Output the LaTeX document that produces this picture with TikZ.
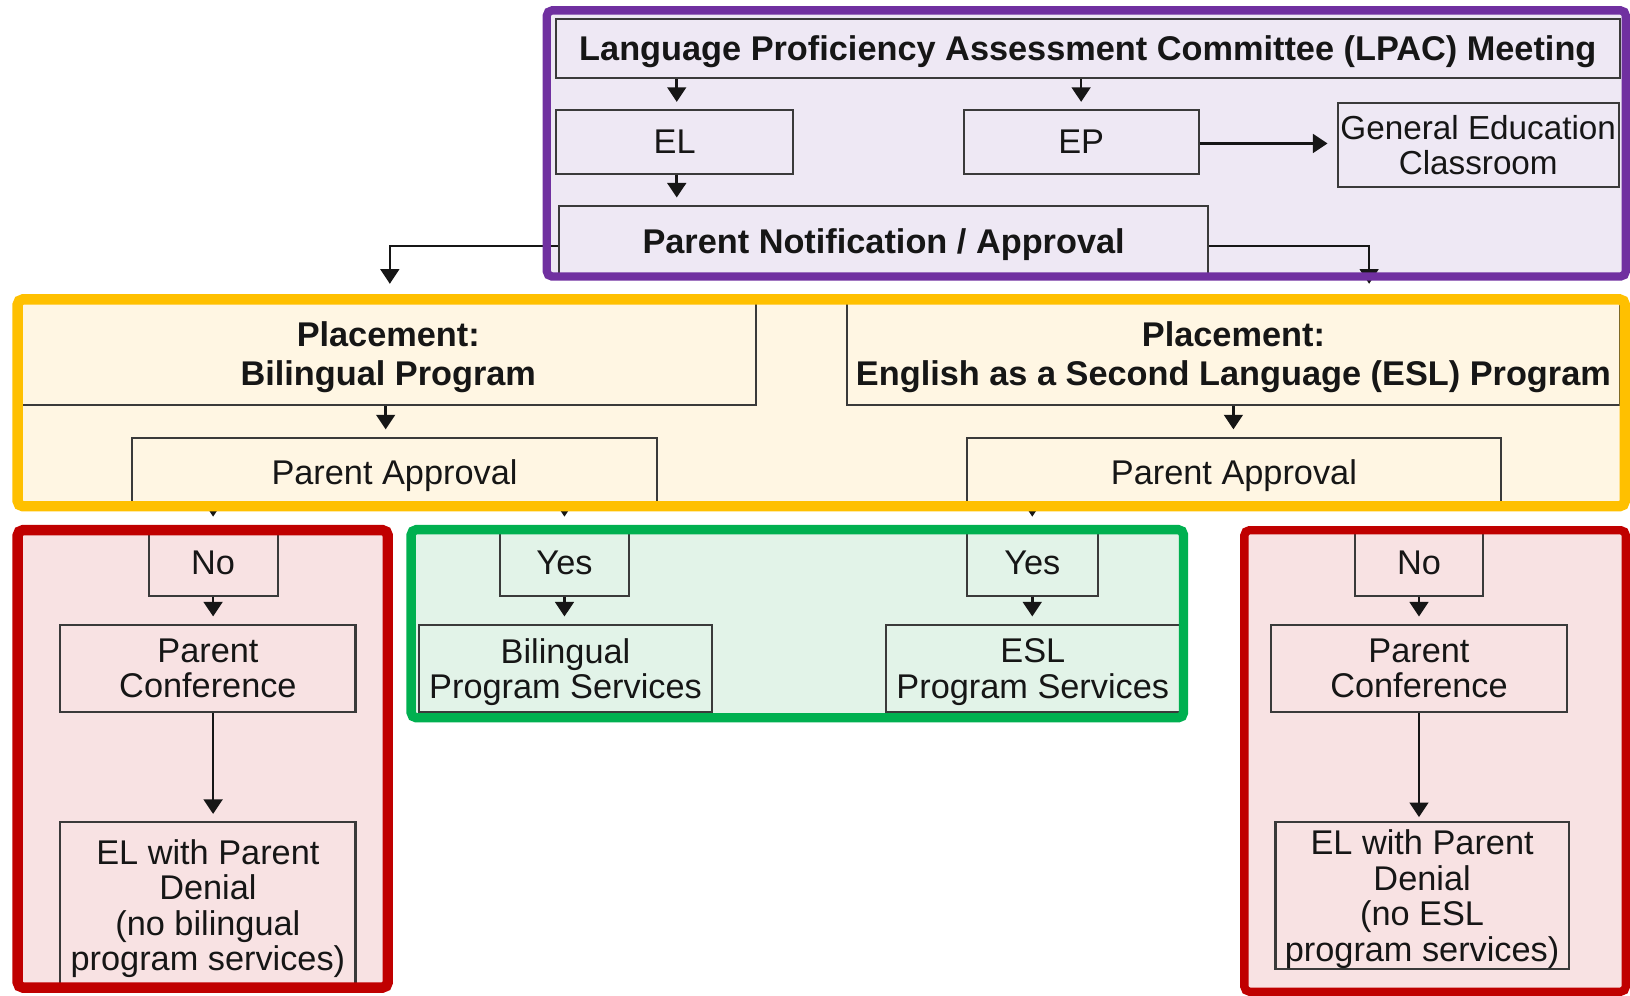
\documentclass[tikz,border=0pt]{standalone}
\usepackage{fontspec}
\setmainfont{Liberation Sans}
\usetikzlibrary{arrows.meta}
\definecolor{frPurple}{HTML}{7030A0}
\definecolor{bgPurple}{HTML}{EEE8F4}
\definecolor{frGold}{HTML}{FFC000}
\definecolor{bgGold}{HTML}{FFF6E3}
\definecolor{frRed}{HTML}{C00000}
\definecolor{bgRed}{HTML}{F8E2E3}
\definecolor{frGreen}{HTML}{00B050}
\definecolor{bgGreen}{HTML}{E2F3E8}
\definecolor{boxline}{HTML}{3A3A3A}
\definecolor{txt}{HTML}{161616}
\begin{document}
\begin{tikzpicture}[x=1pt,y=-1pt,
  box/.style={draw=boxline, line width=2pt, inner sep=0pt, align=center, text depth=0pt,
    font=\fontsize{33}{34}\selectfont, text=txt},
  boldbox/.style={box, font=\fontsize{33}{37}\selectfont\bfseries},
  arr/.style={draw=txt, line width=2.5pt, -{Triangle[width=18pt,length=14pt]}, shorten >=7pt},
  frame/.style={line width=#1, rounded corners=5pt},
]
\useasboundingbox (0,0) rectangle (1568,958);

% group backgrounds
\fill[bgPurple, rounded corners=5pt] (526,10) rectangle (1564,266);
\fill[bgGold, rounded corners=5pt] (17,288) rectangle (1563,487);
\fill[bgRed, rounded corners=5pt] (17,510) rectangle (373,950);
\fill[bgGreen, rounded corners=5pt] (395.5,509.5) rectangle (1138.5,690.5);
\fill[bgRed, rounded corners=5pt] (1197,510) rectangle (1564,954);

% LPAC stage
\node[boldbox, minimum width=1023pt, minimum height=57pt] (lpac) at (1046.5,46.5)
  {Language Proficiency Assessment Committee (LPAC) Meeting};
\node[box, minimum width=228pt, minimum height=61pt] (el) at (649,136.5) {EL};
\node[box, minimum width=226pt, minimum height=61pt] (ep) at (1040,136.5) {EP};
\node[box, minimum width=270pt, minimum height=81pt, font=\fontsize{32}{34}\selectfont]
  (gen) at (1422,139.5) {General Education\\Classroom};
\node[boldbox, minimum width=624pt, minimum height=68pt] (pn) at (850,232)
  {Parent Notification / Approval};

% placement stage
\node[boldbox, minimum width=707pt, minimum height=100pt] (bil) at (373.5,340)
  {Placement:\\Bilingual Program};
\node[boldbox, minimum width=743pt, minimum height=100pt] (esl) at (1186.5,340)
  {Placement:\\English as a Second Language (ESL) Program};
\node[box, minimum width=505pt, minimum height=66pt] (pa1) at (379.5,454) {Parent Approval};
\node[box, minimum width=514pt, minimum height=66pt] (pa2) at (1187,454) {Parent Approval};

% decisions
\node[box, minimum width=124pt, minimum height=63pt] (no1) at (205,541.5) {No};
\node[box, minimum width=124pt, minimum height=63pt] (yes1) at (543,541.5) {Yes};
\node[box, minimum width=126pt, minimum height=63pt] (yes2) at (993,541.5) {Yes};
\node[box, minimum width=124pt, minimum height=63pt] (no2) at (1365,541.5) {No};

% outcomes
\node[box, minimum width=284pt, minimum height=84pt] (pc1) at (200,643) {Parent\\Conference};
\node[box, minimum width=282pt, minimum height=84pt] (bps) at (544,643) {Bilingual\\Program Services};
\node[box, minimum width=283pt, minimum height=84pt] (eps) at (993.5,643) {ESL\\Program Services};
\node[box, minimum width=284pt, minimum height=84pt] (pc2) at (1365,643) {Parent\\Conference};
\node[box, minimum width=284pt, minimum height=159pt] (den1) at (200,870.5)
  {EL with Parent\\Denial\\(no bilingual\\program services)};
\node[box, minimum width=282pt, minimum height=141pt] (den2) at (1368,861.5)
  {EL with Parent\\Denial\\(no ESL\\program services)};

% connectors
\draw[arr] ([xshift=2pt]lpac.south -| el.north) -- ([xshift=2pt]el.north);
\draw[arr] (lpac.south -| ep.north) -- (ep.north);
\draw[arr] ([xshift=2pt]el.south) -- ([xshift=2pt]el.south |- pn.north);
\draw[arr, shorten >=9pt] ([yshift=-1.5pt]ep.east) -- ([yshift=-1.5pt]ep.east -| gen.west);
\draw[arr, line width=1.8pt, shorten >=16pt] ([yshift=-5pt]pn.west) -| ([xshift=1.5pt]bil.north);
\draw[arr, line width=1.8pt, shorten >=16pt] ([yshift=-5pt]pn.east) -| ([xshift=130.5pt]esl.north);
\draw[arr] ([xshift=-2.5pt]bil.south) -- ([xshift=-2.5pt]bil.south |- pa1.north);
\draw[arr] (esl.south) -- (esl.south |- pa2.north);
\draw[arr, shorten >=12pt] (pa1.south -| no1.north) -- (no1.north);
\draw[arr, shorten >=12pt] (pa1.south -| yes1.north) -- (yes1.north);
\draw[arr, shorten >=12pt] (pa2.south -| yes2.north) -- (yes2.north);
\draw[arr] (no1.south) -- (no1.south |- pc1.north);
\draw[arr] (yes1.south) -- (yes1.south |- bps.north);
\draw[arr] (yes2.south) -- (yes2.south |- eps.north);
\draw[arr] (no2.south) -- (no2.south |- pc2.north);
\draw[arr] (no1.south |- pc1.south) -- (no1.south |- den1.north);
\draw[arr, shorten >=4pt] (no2.south |- pc2.south) -- (no2.south |- den2.north);

% group frames
\draw[frPurple, frame=8pt] (526,10) rectangle (1564,266);
\draw[frGold, frame=10pt] (17,288) rectangle (1563,487);
\draw[frRed, frame=10pt] (17,510) rectangle (373,950);
\draw[frGreen, frame=9pt] (395.5,509.5) rectangle (1138.5,690.5);
\draw[frRed, frame=8pt] (1197,510) rectangle (1564,954);
\end{tikzpicture}
\end{document}
